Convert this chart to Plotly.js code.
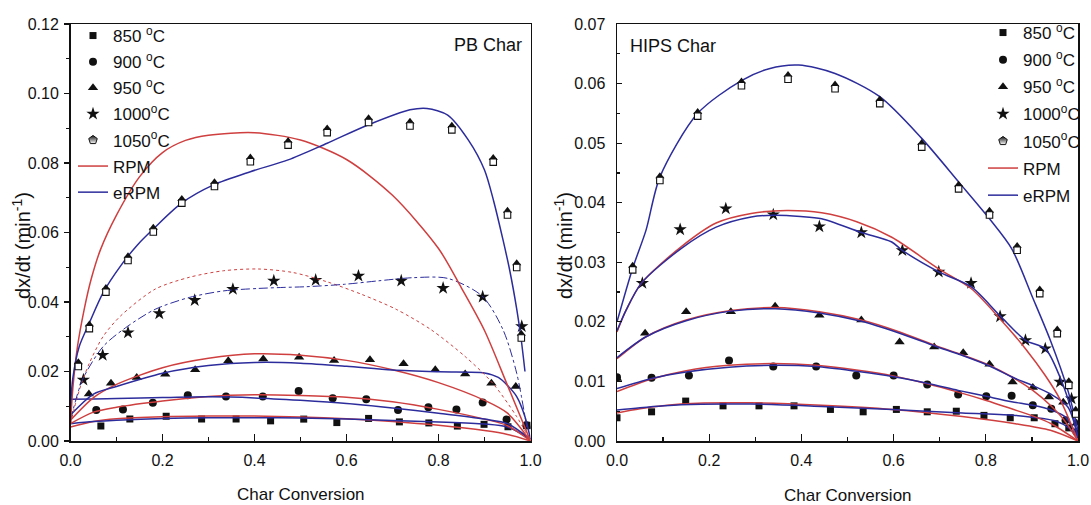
<!DOCTYPE html>
<html>
<head>
<meta charset="utf-8">
<script src="https://cdn.plot.ly/plotly-3.0.1.min.js"></script>
<style>
  html, body { margin: 0; padding: 0; background: #fff; }
  #chart { width: 1091px; height: 505px; }
</style>
</head>
<body>
<div id="chart"></div>
<script>
// Legend labels
const tempLabels = ['850 <sup>o</sup>C', '900 <sup>o</sup>C', '950 <sup>o</sup>C', '1000<sup>o</sup>C', '1050<sup>o</sup>C'];
const modelLabels = ['RPM', 'eRPM'];

// ---------- PB char: measured conversion rates ----------
const pb850X = [0.066, 0.129, 0.208, 0.285, 0.360, 0.435, 0.507, 0.579, 0.648, 0.715, 0.779, 0.841, 0.899, 0.951, 0.993];
const pb850Y = [0.0043, 0.0063, 0.0071, 0.0063, 0.0063, 0.0058, 0.0063, 0.0053, 0.0065, 0.0055, 0.0052, 0.0043, 0.0048, 0.0041, 0.0045];
const pb900X = [0.056, 0.114, 0.179, 0.255, 0.338, 0.418, 0.496, 0.570, 0.643, 0.712, 0.778, 0.839, 0.896, 0.948, 0.991];
const pb900Y = [0.0089, 0.0091, 0.0110, 0.0132, 0.0128, 0.0128, 0.0144, 0.0123, 0.0120, 0.0089, 0.0097, 0.0091, 0.0111, 0.0062, 0.0045];
const pb950X = [0.040, 0.088, 0.144, 0.206, 0.271, 0.343, 0.419, 0.497, 0.573, 0.651, 0.724, 0.793, 0.858, 0.915, 0.968, 0.994];
const pb950Y = [0.0135, 0.0166, 0.0183, 0.0192, 0.0205, 0.0231, 0.0236, 0.0241, 0.0232, 0.0234, 0.0222, 0.0205, 0.0193, 0.0166, 0.0157, 0.0040];
const pb1000X = [0.028, 0.070, 0.125, 0.193, 0.270, 0.353, 0.442, 0.533, 0.626, 0.719, 0.810, 0.896, 0.981];
const pb1000Y = [0.0176, 0.0247, 0.0312, 0.0367, 0.0405, 0.0437, 0.0461, 0.0463, 0.0475, 0.0461, 0.0440, 0.0415, 0.0330];
const pb1050X = [0.017, 0.041, 0.077, 0.125, 0.180, 0.242, 0.313, 0.391, 0.473, 0.558, 0.648, 0.738, 0.829, 0.919, 0.950, 0.970, 0.980];
const pb1050Y = [0.0219, 0.0328, 0.0433, 0.0524, 0.0606, 0.0689, 0.0737, 0.0808, 0.0856, 0.0892, 0.0921, 0.0911, 0.0900, 0.0807, 0.0655, 0.0504, 0.0301];

// ---------- PB char: model curves ----------
const pbGridX = [0, 0.05, 0.1, 0.2, 0.3, 0.4, 0.5, 0.6, 0.7, 0.8, 0.9, 0.95, 1.0];
const pbRpm850Y = [0.0040, 0.0056, 0.0064, 0.0070, 0.0072, 0.0072, 0.0069, 0.0064, 0.0056, 0.0045, 0.0030, 0.0019, 0.0000];
const pbErpm850Y = [0.0050, 0.0056, 0.0060, 0.0065, 0.0067, 0.0067, 0.0066, 0.0063, 0.0059, 0.0055, 0.0049, 0.0040, 0.0005];
const pbRpm900Y = [0.0050, 0.0083, 0.0097, 0.0115, 0.0128, 0.0133, 0.0131, 0.0126, 0.0113, 0.0091, 0.0063, 0.0044, 0.0000];
const pbErpm900Y = [0.0120, 0.0121, 0.0122, 0.0125, 0.0127, 0.0124, 0.0117, 0.0108, 0.0095, 0.0080, 0.0063, 0.0050, 0.0005];
const pbRpm950Y = [0.0060, 0.0125, 0.0163, 0.0211, 0.0238, 0.0251, 0.0247, 0.0232, 0.0205, 0.0168, 0.0117, 0.0080, 0.0000];
const pbErpm950X = [0, 0.05, 0.1, 0.2, 0.3, 0.4, 0.5, 0.6, 0.7, 0.8, 0.9, 0.93, 0.95, 0.97, 0.988, 1.0];
const pbErpm950Y = [0.0075, 0.0135, 0.0157, 0.0195, 0.0217, 0.0226, 0.0224, 0.0215, 0.0204, 0.0199, 0.0196, 0.0183, 0.0160, 0.0128, 0.0070, 0.0005];
const pbRpm1000X = [0, 0.02, 0.041, 0.071, 0.109, 0.184, 0.258, 0.333, 0.408, 0.483, 0.558, 0.633, 0.708, 0.783, 0.858, 0.918, 0.97, 1.0];
const pbRpm1000Y = [0.005, 0.015, 0.0224, 0.0301, 0.036, 0.0437, 0.0471, 0.049, 0.0495, 0.0485, 0.0458, 0.0422, 0.0379, 0.0321, 0.0243, 0.0166, 0.007, 0];
const pbErpm1000X = [0, 0.026, 0.071, 0.124, 0.184, 0.258, 0.333, 0.408, 0.464, 0.513, 0.596, 0.67, 0.745, 0.82, 0.895, 0.94, 0.97, 0.993];
const pbErpm1000Y = [0.006, 0.0176, 0.0272, 0.033, 0.0379, 0.0413, 0.0432, 0.0439, 0.0442, 0.0444, 0.0451, 0.0461, 0.047, 0.0468, 0.0417, 0.0321, 0.0195, 0.003];
const pbRpm1050X = [0, 0.005, 0.015, 0.03, 0.045, 0.065, 0.1, 0.15, 0.2, 0.25, 0.3, 0.4, 0.5, 0.6, 0.7, 0.8, 0.85, 0.9, 0.95, 1.0];
const pbRpm1050Y = [0.005, 0.015, 0.027, 0.038, 0.0466, 0.055, 0.065, 0.076, 0.083, 0.0865, 0.088, 0.0887, 0.0866, 0.0810, 0.0707, 0.0554, 0.0440, 0.0318, 0.0160, 0];
const pbErpm1050X = [0, 0.005, 0.019, 0.041, 0.071, 0.109, 0.146, 0.18, 0.242, 0.311, 0.391, 0.473, 0.558, 0.648, 0.738, 0.775, 0.82, 0.865, 0.9, 0.92, 0.94, 0.955, 0.97, 0.98, 0.988];
const pbErpm1050Y = [0.010, 0.018, 0.0272, 0.034, 0.0427, 0.0504, 0.0565, 0.061, 0.0685, 0.0737, 0.0775, 0.0809, 0.0857, 0.091, 0.0953, 0.0957, 0.0938, 0.0866, 0.078, 0.069, 0.058, 0.049, 0.038, 0.029, 0.020];

// ---------- HIPS char: measured conversion rates ----------
const hips850X = [0.0, 0.075, 0.149, 0.23, 0.308, 0.384, 0.463, 0.534, 0.606, 0.673, 0.736, 0.796, 0.853, 0.905, 0.95, 0.98];
const hips850Y = [0.0039, 0.0049, 0.0067, 0.0059, 0.0059, 0.0059, 0.0053, 0.0049, 0.0053, 0.0049, 0.0050, 0.0043, 0.0039, 0.0039, 0.0029, 0.0022];
const hips900X = [0.0, 0.075, 0.156, 0.243, 0.339, 0.432, 0.519, 0.60, 0.673, 0.74, 0.801, 0.856, 0.902, 0.942, 0.973, 0.997];
const hips900Y = [0.0107, 0.0106, 0.0110, 0.0135, 0.0125, 0.0125, 0.0110, 0.0110, 0.0095, 0.0078, 0.0075, 0.0076, 0.0060, 0.0054, 0.0035, 0.0015];
const hips950X = [0.0, 0.061, 0.15, 0.247, 0.343, 0.439, 0.53, 0.613, 0.688, 0.751, 0.808, 0.858, 0.902, 0.937, 0.968, 0.997];
const hips950Y = [0.0105, 0.0181, 0.0217, 0.0217, 0.0226, 0.0211, 0.0203, 0.0166, 0.0158, 0.0148, 0.0129, 0.0099, 0.0090, 0.0074, 0.0065, 0.0030];
const hips1000X = [0.055, 0.137, 0.236, 0.339, 0.439, 0.53, 0.619, 0.698, 0.768, 0.831, 0.886, 0.929, 0.961, 0.986];
const hips1000Y = [0.0265, 0.0355, 0.0390, 0.0380, 0.0360, 0.0350, 0.0320, 0.0284, 0.0265, 0.0209, 0.0169, 0.0155, 0.0099, 0.0071];
const hips1050X = [0.034, 0.093, 0.175, 0.27, 0.371, 0.473, 0.57, 0.661, 0.741, 0.808, 0.868, 0.917, 0.955, 0.98, 0.995];
const hips1050Y = [0.0290, 0.0440, 0.0548, 0.0599, 0.0610, 0.0594, 0.0569, 0.0496, 0.0426, 0.0382, 0.0323, 0.0250, 0.0183, 0.0096, 0.0048];

// ---------- HIPS char: model curves ----------
const hipsRpm850X = [0, 0.05, 0.139, 0.29, 0.444, 0.597, 0.749, 0.864, 0.94, 1.0];
const hipsRpm850Y = [0.0047, 0.0054, 0.0062, 0.0064, 0.0060, 0.0053, 0.0041, 0.0029, 0.0018, 0.0000];
const hipsErpm850X = [0, 0.05, 0.139, 0.29, 0.444, 0.597, 0.749, 0.864, 0.9, 0.95, 0.98, 1.0];
const hipsErpm850Y = [0.0052, 0.0056, 0.0061, 0.0062, 0.0058, 0.0053, 0.0047, 0.0043, 0.0040, 0.0034, 0.0022, 0.0005];
const hipsRpm900X = [0, 0.075, 0.15, 0.243, 0.339, 0.432, 0.519, 0.6, 0.673, 0.74, 0.801, 0.856, 0.902, 0.942, 1.0];
const hipsRpm900Y = [0.0083, 0.0104, 0.0118, 0.0127, 0.0130, 0.0127, 0.0119, 0.0109, 0.0096, 0.0082, 0.0068, 0.0054, 0.0042, 0.0029, 0.0000];
const hipsErpm900X = [0, 0.075, 0.15, 0.243, 0.339, 0.432, 0.519, 0.6, 0.673, 0.74, 0.801, 0.856, 0.902, 0.942, 0.973, 1.0];
const hipsErpm900Y = [0.0088, 0.0105, 0.0116, 0.0124, 0.0127, 0.0125, 0.0117, 0.0108, 0.0097, 0.0085, 0.0075, 0.0066, 0.0060, 0.0052, 0.0040, 0.0005];
const hipsRpm950X = [0, 0.063, 0.15, 0.247, 0.343, 0.439, 0.53, 0.613, 0.688, 0.751, 0.808, 0.858, 0.902, 0.94, 0.97, 1.0];
const hipsRpm950Y = [0.0138, 0.0175, 0.0203, 0.0219, 0.0224, 0.0217, 0.0203, 0.0183, 0.0161, 0.0144, 0.0127, 0.0107, 0.0085, 0.0060, 0.0035, 0.0000];
const hipsErpm950X = [0, 0.063, 0.15, 0.247, 0.343, 0.439, 0.53, 0.613, 0.688, 0.751, 0.808, 0.858, 0.902, 0.94, 0.978, 1.0];
const hipsErpm950Y = [0.0140, 0.0175, 0.0202, 0.0218, 0.0222, 0.0215, 0.0201, 0.0181, 0.0160, 0.0143, 0.0126, 0.0107, 0.0093, 0.0079, 0.0057, 0.0005];
const hipsRpm1000X = [0, 0.02, 0.053, 0.139, 0.215, 0.291, 0.368, 0.444, 0.52, 0.596, 0.698, 0.768, 0.831, 0.886, 0.929, 0.961, 1.0];
const hipsRpm1000Y = [0.0183, 0.0220, 0.0265, 0.0326, 0.0366, 0.0382, 0.0387, 0.0383, 0.0368, 0.0342, 0.0289, 0.0256, 0.0205, 0.0155, 0.0110, 0.0070, 0.0000];
const hipsErpm1000X = [0, 0.02, 0.053, 0.139, 0.215, 0.291, 0.339, 0.398, 0.444, 0.53, 0.596, 0.619, 0.698, 0.768, 0.831, 0.886, 0.929, 0.961, 0.99, 1.0];
const hipsErpm1000Y = [0.0185, 0.0220, 0.0265, 0.0323, 0.0359, 0.0376, 0.0379, 0.0377, 0.0373, 0.0350, 0.0334, 0.0320, 0.0284, 0.0259, 0.0210, 0.0169, 0.0155, 0.0107, 0.0040, 0.0005];
const hipsErpm1050X = [0, 0.034, 0.063, 0.093, 0.175, 0.27, 0.33, 0.394, 0.473, 0.57, 0.661, 0.741, 0.808, 0.856, 0.902, 0.94, 0.978, 1.0];
const hipsErpm1050Y = [0.020, 0.029, 0.0354, 0.0443, 0.055, 0.0605, 0.0625, 0.0631, 0.0617, 0.0578, 0.0508, 0.0435, 0.0373, 0.0323, 0.0240, 0.0169, 0.0085, 0.0018];

// ---------- styling ----------
const RED = '#cf3f3f';
const BLUE = '#2c2c9c';
const INK = '#111111';
const FONT = 'Liberation Sans, Arial, Helvetica, sans-serif';

const W = 1091, H = 505;
const plotTop = 24, plotBottom = 441;
const plotH = plotBottom - plotTop;
const yDomain = [(H - plotBottom) / H, (H - plotTop) / H];
const pbRange = [0, 0.12];
const hipsRange = [0, 0.07];

// pixel nudges that assemble the 1050 °C "house" symbol (roof above, box below)
const roofLift = 2.6, boxDrop = 1.6;
function shifted(range, px) {
  const perPx = (range[1] - range[0]) / plotH;
  return [range[0] + px * perPx, range[1] + px * perPx];
}

function markers(x, y, name, symbol, size, xa, ya, legend) {
  return {
    type: 'scatter', mode: 'markers', x: x, y: y, name: name,
    xaxis: xa, yaxis: ya, legend: legend, legendgroup: legend + name,
    marker: { symbol: symbol, size: size, color: INK, line: { width: 0 } },
    hoverinfo: 'x+y'
  };
}

// legend entry for the 1050 °C symbol (dark top, open bottom)
function houseKey(name, xa, ya, legend) {
  return {
    type: 'scatter', mode: 'markers', x: [null], y: [null], name: name,
    xaxis: xa, yaxis: ya, legend: legend, legendgroup: legend + name,
    marker: { symbol: 'pentagon', size: 9, color: INK,
              gradient: { type: 'vertical', color: '#ffffff' },
              line: { color: INK, width: 1 } },
    hoverinfo: 'skip'
  };
}

// the 1050 °C points: open box on one axis copy, filled roof on another
function houseMarkers(x, y, name, xa, boxAxis, roofAxis, legend) {
  return [
    {
      type: 'scatter', mode: 'markers', x: x, y: y, name: name,
      xaxis: xa, yaxis: boxAxis, legend: legend, showlegend: false,
      marker: { symbol: 'square', size: 6.5, color: '#ffffff', line: { color: INK, width: 1.1 } },
      hoverinfo: 'x+y'
    },
    {
      type: 'scatter', mode: 'markers', x: x, y: y, name: name,
      xaxis: xa, yaxis: roofAxis, legend: legend, showlegend: false,
      marker: { symbol: 'triangle-up', size: 8, color: INK, line: { width: 0 } },
      hoverinfo: 'skip'
    }
  ];
}

function curve(x, y, color, xa, ya, legend, opts) {
  opts = opts || {};
  return {
    type: 'scatter', mode: 'lines', x: x, y: y,
    name: opts.name || '', showlegend: !!opts.name,
    legendgroup: legend + (opts.name || 'fit'),
    xaxis: xa, yaxis: ya, legend: legend,
    line: { color: color, width: opts.width || 1.5, dash: opts.dash || 'solid', shape: 'spline', smoothing: 0.8 },
    hoverinfo: 'skip'
  };
}

const data = [
  // PB char
  markers(pb850X, pb850Y, tempLabels[0], 'square', 7, 'x', 'y', 'legend'),
  markers(pb900X, pb900Y, tempLabels[1], 'circle', 8, 'x', 'y', 'legend'),
  markers(pb950X, pb950Y, tempLabels[2], 'triangle-up', 9, 'x', 'y', 'legend'),
  markers(pb1000X, pb1000Y, tempLabels[3], 'star', 10, 'x', 'y', 'legend'),
  houseKey(tempLabels[4], 'x', 'y', 'legend'),
  curve(pbGridX, pbRpm850Y, RED, 'x', 'y', 'legend', { name: modelLabels[0] }),
  curve(pbGridX, pbErpm850Y, BLUE, 'x', 'y', 'legend', { name: modelLabels[1] }),
  curve(pbGridX, pbRpm900Y, RED, 'x', 'y', 'legend'),
  curve(pbGridX, pbErpm900Y, BLUE, 'x', 'y', 'legend'),
  curve(pbGridX, pbRpm950Y, RED, 'x', 'y', 'legend'),
  curve(pbErpm950X, pbErpm950Y, BLUE, 'x', 'y', 'legend'),
  curve(pbRpm1000X, pbRpm1000Y, RED, 'x', 'y', 'legend', { width: 1, dash: 'dot' }),
  curve(pbErpm1000X, pbErpm1000Y, BLUE, 'x', 'y', 'legend', { width: 1, dash: 'dashdot' }),
  curve(pbRpm1050X, pbRpm1050Y, RED, 'x', 'y', 'legend'),
  curve(pbErpm1050X, pbErpm1050Y, BLUE, 'x', 'y', 'legend'),
  ...houseMarkers(pb1050X, pb1050Y, tempLabels[4], 'x', 'y4', 'y3', 'legend'),

  // HIPS char
  markers(hips850X, hips850Y, tempLabels[0], 'square', 7, 'x2', 'y2', 'legend2'),
  markers(hips900X, hips900Y, tempLabels[1], 'circle', 8, 'x2', 'y2', 'legend2'),
  markers(hips950X, hips950Y, tempLabels[2], 'triangle-up', 9, 'x2', 'y2', 'legend2'),
  markers(hips1000X, hips1000Y, tempLabels[3], 'star', 10, 'x2', 'y2', 'legend2'),
  houseKey(tempLabels[4], 'x2', 'y2', 'legend2'),
  curve(hipsRpm850X, hipsRpm850Y, RED, 'x2', 'y2', 'legend2', { name: modelLabels[0] }),
  curve(hipsErpm850X, hipsErpm850Y, BLUE, 'x2', 'y2', 'legend2', { name: modelLabels[1] }),
  curve(hipsRpm900X, hipsRpm900Y, RED, 'x2', 'y2', 'legend2'),
  curve(hipsErpm900X, hipsErpm900Y, BLUE, 'x2', 'y2', 'legend2'),
  curve(hipsRpm950X, hipsRpm950Y, RED, 'x2', 'y2', 'legend2'),
  curve(hipsErpm950X, hipsErpm950Y, BLUE, 'x2', 'y2', 'legend2'),
  curve(hipsRpm1000X, hipsRpm1000Y, RED, 'x2', 'y2', 'legend2'),
  curve(hipsErpm1000X, hipsErpm1000Y, BLUE, 'x2', 'y2', 'legend2'),
  curve(hipsErpm1050X, hipsErpm1050Y, BLUE, 'x2', 'y2', 'legend2'),
  ...houseMarkers(hips1050X, hips1050Y, tempLabels[4], 'x2', 'y6', 'y5', 'legend2')
];

function xAxis(domain, anchor) {
  return {
    domain: domain, anchor: anchor, range: [0, 1], autorange: false,
    dtick: 0.2, tick0: 0, tickformat: '.1f',
    ticks: 'inside', ticklen: 7, tickwidth: 1.2, tickcolor: INK,
    ticklabelstandoff: 4,
    minor: { dtick: 0.1, ticks: 'inside', ticklen: 4, tickwidth: 1.2, tickcolor: INK },
    showline: true, mirror: true, linewidth: 1.5, linecolor: INK,
    showgrid: false, zeroline: false,
    tickfont: { size: 16, color: INK }, automargin: false
  };
}
function yAxis(range, dtick, anchor, tickDir, standoff) {
  return {
    domain: yDomain, anchor: anchor, range: range, autorange: false,
    dtick: dtick, tick0: 0, tickformat: '.2f',
    ticks: tickDir, ticklen: 5, tickwidth: 1.2, tickcolor: INK,
    ticklabelstandoff: standoff,
    minor: { dtick: dtick / 2, ticks: tickDir, ticklen: 3, tickwidth: 1.2, tickcolor: INK },
    showline: true, mirror: true, linewidth: 1.5, linecolor: INK,
    showgrid: false, zeroline: false,
    tickfont: { size: 16, color: INK }, automargin: false
  };
}
function ghostAxis(base, anchor, range) {
  return { overlaying: base, anchor: anchor, range: range, autorange: false, visible: false, domain: yDomain };
}

const titleFont = { family: FONT, size: 17, color: INK };
const yTitleFont = { family: FONT, size: 20, color: INK };
const legendBase = {
  xanchor: 'left', yanchor: 'top', bgcolor: 'rgba(0,0,0,0)', borderwidth: 0,
  font: { family: FONT, size: 17, color: INK }, traceorder: 'grouped'
};

const layout = {
  width: W, height: H,
  margin: { l: 0, r: 0, t: 0, b: 0 },
  paper_bgcolor: '#ffffff', plot_bgcolor: '#ffffff',
  font: { family: FONT, color: INK },
  showlegend: true,
  xaxis: xAxis([70.5 / W, 530.5 / W], 'y'),
  yaxis: yAxis(pbRange, 0.02, 'x', 'outside', 2),
  xaxis2: xAxis([617 / W, 1078 / W], 'y2'),
  yaxis2: yAxis(hipsRange, 0.01, 'x2', 'inside', 7),
  yaxis3: ghostAxis('y', 'x', shifted(pbRange, -roofLift)),
  yaxis4: ghostAxis('y', 'x', shifted(pbRange, boxDrop)),
  yaxis5: ghostAxis('y2', 'x2', shifted(hipsRange, -roofLift)),
  yaxis6: ghostAxis('y2', 'x2', shifted(hipsRange, boxDrop)),
  legend: Object.assign({ x: 73 / W, y: (H - 18) / H, tracegroupgap: 1 }, legendBase),
  legend2: Object.assign({ x: 983 / W, y: (H - 15) / H, tracegroupgap: 2 }, legendBase),
  annotations: [
    { text: 'PB Char', xref: 'paper', yref: 'paper', x: 524 / W, y: (H - 45) / H,
      xanchor: 'right', yanchor: 'middle', showarrow: false, font: { family: FONT, size: 18, color: INK } },
    { text: 'HIPS Char', xref: 'paper', yref: 'paper', x: 628 / W, y: (H - 46) / H,
      xanchor: 'left', yanchor: 'middle', showarrow: false, font: { family: FONT, size: 18, color: INK } },
    { text: 'dx/dt (min<sup>-1</sup>)', xref: 'paper', yref: 'paper', x: 21 / W, y: (H - 246) / H,
      xanchor: 'center', yanchor: 'middle', textangle: -90, showarrow: false, font: yTitleFont },
    { text: 'dx/dt (min<sup>-1</sup>)', xref: 'paper', yref: 'paper', x: 563 / W, y: (H - 246) / H,
      xanchor: 'center', yanchor: 'middle', textangle: -90, showarrow: false, font: yTitleFont },
    { text: 'Char Conversion', xref: 'paper', yref: 'paper', x: 300.5 / W, y: (H - 494) / H,
      xanchor: 'center', yanchor: 'middle', showarrow: false, font: titleFont },
    { text: 'Char Conversion', xref: 'paper', yref: 'paper', x: 847.5 / W, y: (H - 495) / H,
      xanchor: 'center', yanchor: 'middle', showarrow: false, font: titleFont }
  ]
};

Plotly.newPlot('chart', data, layout, { staticPlot: true, displayModeBar: false });
</script>
</body>
</html>
